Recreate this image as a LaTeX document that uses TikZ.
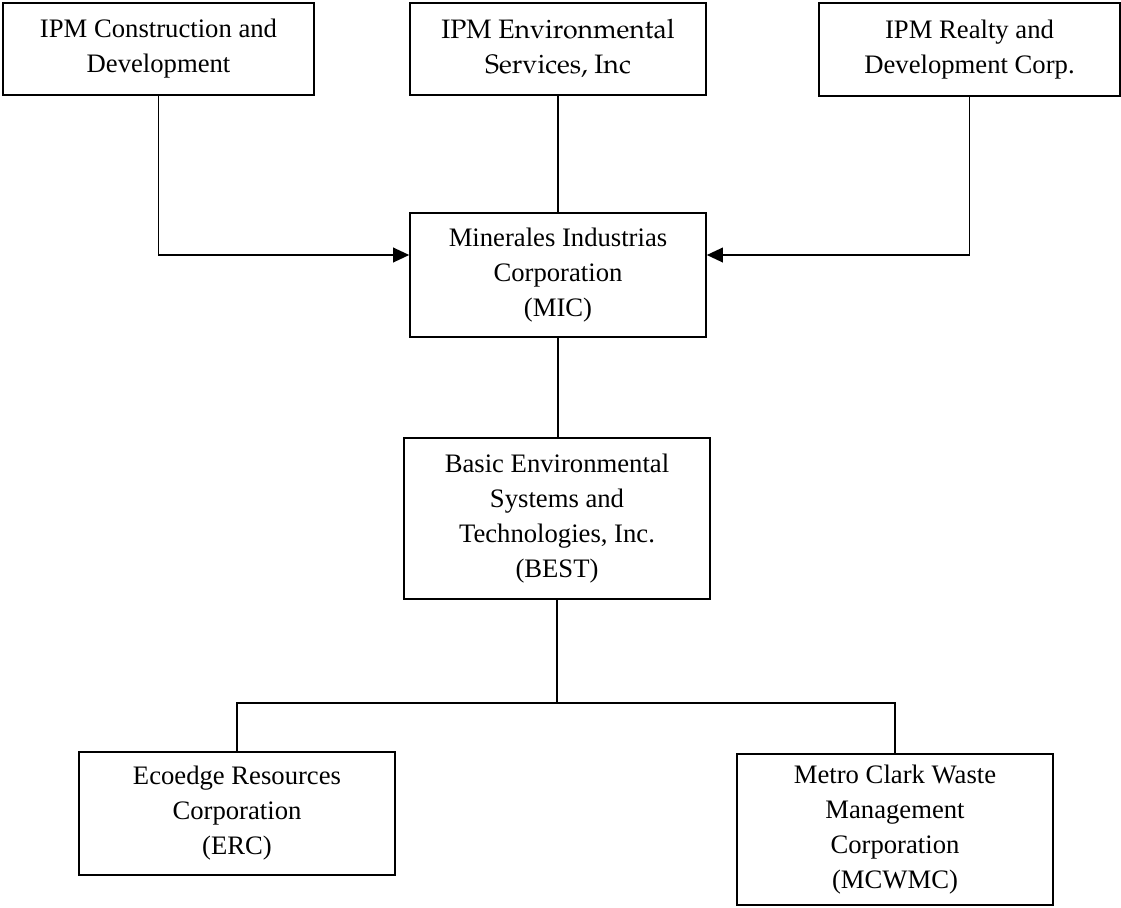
\documentclass[tikz,border=0pt]{standalone}
\usepackage[T1]{fontenc}
\usepackage{fontspec}
\setmainfont{Liberation Serif}
\usetikzlibrary{arrows.meta}
\newcommand{\pala}{\fontencoding{T1}\fontfamily{ppl}\selectfont}
\tikzset{
	unit/.style={draw, line width=1.2pt, align=center, inner sep=0pt, font=\fontsize{20}{26.25}\selectfont},
	link/.style={line width=1.1pt},
	arr/.style={line width=1.1pt, -{Triangle[length=12pt,width=11pt]}}
}

\begin{document}
\begin{tikzpicture}[x=0.75pt, y=-0.75pt]
		%%%%% START %%%%%
		\useasboundingbox (0, 0) rectangle (1121, 907);
		
		% owners
		\node[unit, minimum width=233.25pt, minimum height=69pt] (con) at (158.5, 49) {IPM Construction and\\Development};
		\node[unit, minimum width=222pt, minimum height=69pt] (env) at (558, 49) {\pala IPM Environmental\\\pala Services, Inc};
		\node[unit, minimum width=225.75pt, minimum height=69.75pt] (realty) at (969.5, 49.5) {IPM Realty and\\Development Corp.};
		
		% middle
		\node[unit, minimum width=222pt, minimum height=93pt] (mic) at (558, 275) {Minerales Industrias\\Corporation\\(MIC)};
		\node[unit, minimum width=229.5pt, minimum height=120.75pt] (best) at (557, 518.5) {Basic Environmental\\Systems and\\Technologies, Inc.\\(BEST)};
		
		% subsidiaries
		\node[unit, minimum width=237pt, minimum height=92.25pt] (erc) at (237, 813.5) {Ecoedge Resources\\Corporation\\(ERC)};
		\node[unit, minimum width=237pt, minimum height=113.25pt] (mcwmc) at (895, 829.5) {Metro Clark Waste\\Management\\Corporation\\(MCWMC)};
		
		\draw[arr] (con.south) |- ([yshift=15pt]mic.west);
		\draw[arr] (realty.south) |- ([yshift=15pt]mic.east);
		\draw[link] (env.south) -- (mic.north);
		\draw[link] (mic.south) -- (mic.south |- best.north);
		
		\coordinate (bus) at (557, 703);
		\draw[link] (best.south) -- (bus);
		\draw[link] (erc.north) |- (bus) -| (mcwmc.north);
		%%%%% END %%%%%
\end{tikzpicture}
\end{document}
